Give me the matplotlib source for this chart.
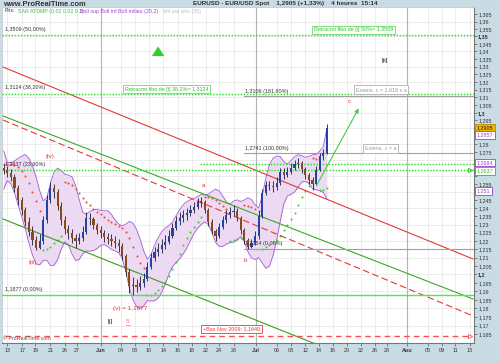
import numpy as np
import pandas as pd
import matplotlib
matplotlib.use("Agg")
import matplotlib.pyplot as plt
import matplotlib.transforms as mtransforms
from matplotlib.ticker import FixedLocator, NullLocator, FuncFormatter

plt.rcParams['font.family'] = ['Liberation Sans', 'DejaVu Sans']

# ---------------- data (half-day bars, EUR/USD) ----------------
open_first = 1.2650
close = [1.2637, 1.2618, 1.2593, 1.2525, 1.2451, 1.2389, 1.2316, 1.2255, 1.2207, 1.2158,
         1.2201, 1.2328, 1.2451, 1.2525, 1.2500, 1.2414, 1.2328, 1.2273, 1.2249, 1.2219,
         1.2201, 1.2219, 1.2255, 1.2340, 1.2334, 1.2298, 1.2267, 1.2249, 1.2225, 1.2213,
         1.2201, 1.2189, 1.2171, 1.2110, 1.2015, 1.1932, 1.1938, 1.1926, 1.1950, 1.1973,
         1.2045, 1.2099, 1.2134, 1.2152, 1.2177, 1.2195, 1.2231, 1.2279, 1.2322, 1.2340,
         1.2359, 1.2371, 1.2389, 1.2408, 1.2438, 1.2438, 1.2389, 1.2316, 1.2261, 1.2231,
         1.2286, 1.2328, 1.2359, 1.2377, 1.2383, 1.2340, 1.2267, 1.2207, 1.2165, 1.2189,
         1.2231, 1.2353, 1.2494, 1.2544, 1.2537, 1.2531, 1.2556, 1.2625, 1.2606, 1.2625,
         1.2650, 1.2675, 1.2681, 1.2644, 1.2606, 1.2575, 1.2550, 1.2637, 1.2725, 1.2744,
         1.2905]
high = [1.2672, 1.2660, 1.2645, 1.2610, 1.2545, 1.2470, 1.2410, 1.2345, 1.2290, 1.2230,
        1.2240, 1.2350, 1.2480, 1.2562, 1.2550, 1.2520, 1.2440, 1.2350, 1.2300, 1.2275,
        1.2245, 1.2250, 1.2290, 1.2375, 1.2370, 1.2345, 1.2310, 1.2290, 1.2265, 1.2250,
        1.2245, 1.2230, 1.2210, 1.2190, 1.2120, 1.2030, 1.1985, 1.1975, 1.1990, 1.2010,
        1.2075, 1.2130, 1.2165, 1.2190, 1.2210, 1.2235, 1.2265, 1.2310, 1.2350, 1.2375,
        1.2390, 1.2400, 1.2420, 1.2440, 1.2465, 1.2470, 1.2450, 1.2400, 1.2335, 1.2275,
        1.2310, 1.2355, 1.2390, 1.2410, 1.2420, 1.2400, 1.2355, 1.2280, 1.2220, 1.2215,
        1.2260, 1.2380, 1.2520, 1.2570, 1.2570, 1.2565, 1.2590, 1.2650, 1.2650, 1.2655,
        1.2680, 1.2700, 1.2712, 1.2690, 1.2655, 1.2620, 1.2590, 1.2660, 1.2745, 1.2770,
        1.2925]
low = [1.2610, 1.2590, 1.2565, 1.2500, 1.2420, 1.2360, 1.2290, 1.2230, 1.2175, 1.2145,
       1.2150, 1.2185, 1.2310, 1.2430, 1.2460, 1.2390, 1.2300, 1.2240, 1.2215, 1.2190,
       1.2160, 1.2180, 1.2200, 1.2240, 1.2300, 1.2270, 1.2240, 1.2220, 1.2195, 1.2180,
       1.2170, 1.2160, 1.2135, 1.2085, 1.1990, 1.1890, 1.1877, 1.1895, 1.1905, 1.1925,
       1.1960, 1.2030, 1.2080, 1.2110, 1.2130, 1.2150, 1.2180, 1.2220, 1.2265, 1.2300,
       1.2315, 1.2330, 1.2350, 1.2370, 1.2395, 1.2405, 1.2370, 1.2290, 1.2240, 1.2200,
       1.2220, 1.2270, 1.2310, 1.2340, 1.2350, 1.2320, 1.2245, 1.2185, 1.2154, 1.2158,
       1.2175, 1.2215, 1.2340, 1.2480, 1.2510, 1.2500, 1.2515, 1.2540, 1.2580, 1.2590,
       1.2610, 1.2635, 1.2650, 1.2620, 1.2580, 1.2550, 1.2510, 1.2540, 1.2630, 1.2700,
       1.2740]

# date axis (trading-day index, May 13 = 0)
date_labels = ['13', '17', '19', '21', '26', '27', 'Jun', '04', '08', '10', '14', '16', '18',
               '22', '24', '28', 'Jul', '06', '08', '12', '14', '16', '20', '22', '26', '28',
               'Aou', '05', '09', '11', '13']
date_pos = [0, 2.1, 3.9, 6.0, 8.0, 9.7, 13.0, 15.8, 17.8, 19.7, 21.7, 23.7, 25.7, 27.7, 29.5,
            31.6, 34.6, 37.5, 39.5, 41.5, 43.4, 45.3, 47.3, 49.2, 51.2, 52.9, 55.7, 58.6, 60.5,
            62.4, 64.4]
month_labels = ['Jun', 'Jul', 'Aou']

# Fibonacci / reference levels
fib_levels = [1.3509, 1.3124, 1.2637]
fib_texts = ['1,3509 (50,00%)', '1,3124 (38,20%)', '1,2637 (23,60%)']
level_second = 1.2672
level_low = 1.1877
level_bas_nov = 1.1640
ext_levels = [1.3106, 1.2741, 1.2154]
ext_texts = ['1,3106 (161,80%)', '1,2741 (100,00%)', '1,2154 (0,00%)']

# trend lines: (day0, price0, day1, price1)
red_line = (-0.6, 1.3297, 64.86, 1.2092)
red_dash = (-0.6, 1.2953, 64.86, 1.1756)
green_up = (-0.6, 1.2979, 64.86, 1.1855)
green_low = (-0.6, 1.2334, 64.86, 1.1238)
green_arrow = (42.86, 1.2524, 49.12, 1.3043)

# right-axis value flags
flag_vals = ['1,2905', '1,2857', '1,2684', '1,2637', '1,251']
flag_y = [1.2905, 1.2857, 1.2684, 1.2632, 1.2506]

# ---------------- figure ----------------
W, H = 500, 363
bg = '#c9dce6'
fig = plt.figure(figsize=(W / 100, H / 100), dpi=100, facecolor=bg)
ax = fig.add_axes([2 / W, 1 - 343 / H, 472 / W, 336 / H])
ax.set_facecolor('white')
ax.set_yscale('log')
ax.set_xlim(-0.74, 64.99)
ax.set_ylim(1.15996, 1.3698)

n = len(close)
xs = np.arange(n) * 0.5 - 0.5
opens = [open_first] + close[:-1]

# grid
for v in np.arange(1.17, 1.37, 0.01):
    ax.axhline(v, color='#e6e6e6', lw=0.5, zorder=0)
for p, lab in zip(date_pos, date_labels):
    if lab in month_labels:
        ax.axvline(p, color='#b5b5b5', lw=0.8, zorder=0)
    else:
        ax.axvline(p, color='#e6e6e6', lw=0.5, zorder=0)

# Bollinger bands (window of 7 half-day bars, 2 std, dispersion from high/low/close)
win = 7
mid, bu, bl = [], [], []
for t in range(n):
    a = max(0, t - win + 1)
    vals = np.array(high[a:t + 1] + low[a:t + 1] + close[a:t + 1])
    m = np.mean(close[a:t + 1])
    sdv = vals.std() if len(vals) > 3 else 0.006
    mid.append(m)
    bu.append(m + 2 * sdv)
    bl.append(m - 2 * sdv)
ax.fill_between(xs, bl, bu, color='#ecd9f2', zorder=1, lw=0)
ax.plot(xs, bu, color='#a45ad6', lw=0.6, zorder=2)
ax.plot(xs, bl, color='#a45ad6', lw=0.6, zorder=2)

# Parabolic SAR
def psar(h, l, af0=0.02, step=0.02, afmax=0.2):
    m = len(h)
    sar = np.zeros(m)
    up = np.zeros(m, bool)
    trend_up = False
    ep = l[0]
    af = af0
    sar[0] = h[0]
    for i in range(1, m):
        prev = sar[i - 1]
        v = prev + af * (ep - prev)
        if trend_up:
            v = min(v, l[i - 1], l[max(i - 2, 0)])
            if l[i] < v:
                trend_up = False
                v = ep
                ep = l[i]
                af = af0
            elif h[i] > ep:
                ep = h[i]
                af = min(af + step, afmax)
        else:
            v = max(v, h[i - 1], h[max(i - 2, 0)])
            if h[i] > v:
                trend_up = True
                v = ep
                ep = h[i]
                af = af0
            elif l[i] < ep:
                ep = l[i]
                af = min(af + step, afmax)
        sar[i] = v
        up[i] = trend_up
    return sar, up

sar, sar_up = psar(high, low)
ax.scatter(xs[sar_up], sar[sar_up], s=2.2, color='#3ccf3c', zorder=3, lw=0)
ax.scatter(xs[~sar_up], sar[~sar_up], s=2.2, color='#f04848', zorder=3, lw=0)

# candles
ax.vlines(xs, low, high, color='#1b1b2b', lw=0.6, zorder=4)
cols = ['#2244aa' if c >= o else '#8a4a1c' for o, c in zip(opens, close)]
bottoms = [min(o, c) for o, c in zip(opens, close)]
heights = [max(abs(c - o), 0.0004) for o, c in zip(opens, close)]
ax.bar(xs, heights, bottom=bottoms, width=0.3, color=cols, zorder=5, lw=0)

# trend lines
def tl(t, **kw):
    ax.plot([t[0], t[2]], [t[1], t[3]], **kw)

tl(red_line, color='#e53935', lw=0.8, zorder=3)
tl(red_dash, color='#e53935', lw=0.8, ls=(0, (6, 3)), zorder=3)
tl(green_up, color='#3aaa2a', lw=0.8, zorder=3)
tl(green_low, color='#3f9a22', lw=0.8, zorder=3)
ax.annotate('', xy=(green_arrow[2], green_arrow[3]), xytext=(green_arrow[0], green_arrow[1]),
            arrowprops=dict(arrowstyle='-|>', color='#44cc44', lw=0.8, mutation_scale=6), zorder=6)

# horizontal levels
x0, x1 = ax.get_xlim()
for lv, txt in zip(fib_levels, fib_texts):
    ax.axhline(lv, color='#22dd22', lw=1.0, ls=(0, (1, 1.2)), zorder=3)
    ax.text(-0.35, lv * 1.0015, txt, fontsize=3.9, color='#333333', va='bottom', ha='left', zorder=7)
ax.plot([26.9, x1], [level_second, level_second], color='#22dd22', lw=1.0, ls=(0, (1, 1.2)), zorder=3)
ax.axhline(level_low, color='#44ee44', lw=1.0, zorder=3)
ax.text(-0.35, level_low * 1.0015, '1,1877 (0,00%)', fontsize=3.9, color='#333333', va='bottom', ha='left', zorder=7)
ax.plot([-0.3, 64.3], [level_bas_nov, level_bas_nov], color='#ff4d4d', lw=1.0, ls=(0, (4, 3)), zorder=3)
ax.plot([64.5], [level_bas_nov], marker='>', ms=3, mfc='none', mec='#ff4d4d', mew=0.6)
ax.plot([64.5], [fib_levels[2]], marker='>', ms=3, mfc='none', mec='#22bb22', mew=0.6)
for lv, txt in zip(ext_levels, ext_texts):
    ax.plot([33.0, x1], [lv, lv], color='#a0a0a0', lw=0.8, zorder=3)
    ax.text(33.1, lv * 1.0012, txt, fontsize=3.9, color='#333333', va='bottom', ha='left', zorder=7)

# boxes
def box(x, y, txt, col, ec):
    ax.text(x, y, txt, fontsize=3.9, color=col, ha='center', va='center', zorder=8,
            bbox=dict(boxstyle='square,pad=0.35', fc='white', ec=ec, lw=0.6))

box(48.2, 1.3543, 'Retracmt fibo de [i] 50%= 1,3509', '#33bb33', '#66dd66')
box(22.17, 1.3153, 'Retracmt fibo de [i] 38,2%= 1,3124', '#33bb33', '#66dd66')
box(52.05, 1.3150, 'Extens. c = 1,618 x a', '#999999', '#b0b0b0')
box(51.98, 1.2771, 'Extens. c = a', '#999999', '#b0b0b0')
box(31.2, 1.1680, '+Bas Nov 2009: 1,1640', '#ee3333', '#ee3333')

ax.annotate('', xy=(21.0, 1.3452), xytext=(21.0, 1.3392),
            arrowprops=dict(arrowstyle='simple,head_width=0.9,head_length=0.7,tail_width=0.35',
                            color='#33cc33', lw=0), zorder=6)

# wave labels
wl = dict(fontsize=4.6, ha='center', va='center', zorder=8)
ax.text(5.95, 1.2718, '(iv)', color='#e53935', **wl)
ax.text(3.58, 1.2074, '(iii)', color='#e53935', **wl)
ax.text(17.09, 1.1802, '(v) = 1,1877', color='#e53935', **wl)
ax.text(14.3, 1.1721, '[i]', color='#111111', **wl)
ax.text(16.8, 1.1721, '5', color='#ff6a8a', **wl)
ax.plot([16.55, 17.05], [1.1701, 1.1701], color='#ff6a8a', lw=0.5)
ax.text(27.3, 1.2537, 'a', color='#e53935', **wl)
ax.text(33.2, 1.2080, 'b', color='#e53935', **wl)
ax.text(47.6, 1.3075, 'c', color='#e53935', **wl)
ax.text(52.5, 1.3337, '[ii]', color='#111111', **wl)

# axes styling
for sp in ['top', 'left']:
    ax.spines[sp].set_color('#c8c8c8')
    ax.spines[sp].set_linewidth(0.6)
for sp in ['bottom', 'right']:
    ax.spines[sp].set_color('#777777')
    ax.spines[sp].set_linewidth(0.8)

yt = [round(v, 3) for v in np.arange(1.165, 1.3651, 0.005)]
ax.yaxis.tick_right()
ax.yaxis.set_major_locator(FixedLocator(yt))
ax.yaxis.set_minor_locator(NullLocator())

px_per_log = 336 / (np.log(1.3698) - np.log(1.15996))
hidden = set(v for v in yt if any(abs(np.log(v) - np.log(f)) * px_per_log < 5.5 for f in flag_y))

def yfmt(v, pos):
    if round(v, 3) in hidden:
        return ''
    t = f"{v:.3f}".rstrip('0').rstrip('.')
    return t.replace('.', ',')

ax.yaxis.set_major_formatter(FuncFormatter(yfmt))
ax.yaxis.set_minor_formatter(FuncFormatter(lambda v, p: ''))
ax.tick_params(axis='y', labelsize=3.9, length=2, width=0.5, colors='#555555', pad=1, labelcolor='#333333')
for lab, v in zip(ax.get_yticklabels(), yt):
    if abs(round(v / 0.05) * 0.05 - v) < 1e-9:
        lab.set_fontweight('bold')

ax.set_xticks(date_pos)
ax.set_xticklabels(date_labels)
ax.tick_params(axis='x', labelsize=3.9, length=2, width=0.5, colors='#555555', pad=1.5, labelcolor='#333333')
for lab in ax.get_xticklabels():
    if lab.get_text() in month_labels:
        lab.set_fontweight('bold')

# right value flags
trans = mtransforms.blended_transform_factory(ax.transAxes, ax.transData)
flag_style = [('#222222', '#f0b400', '#c08a00'), ('#a040d0', 'white', '#a040d0'),
              ('#a040d0', 'white', '#a040d0'), ('#33bb33', 'white', '#33bb33'),
              ('#a040d0', 'white', '#a040d0')]
for txt, yv, (tc, fc, ec) in zip(flag_vals, flag_y, flag_style):
    ax.text(1.006, yv, txt, transform=trans, fontsize=3.9, color=tc, ha='left', va='center',
            zorder=9, clip_on=False,
            bbox=dict(boxstyle='square,pad=0.25', fc=fc, ec=ec, lw=0.6))

# header texts
def ftxt(x, y, t, **kw):
    fig.text(x / W, 1 - y / H, t, **kw)

ftxt(3, 4, 'www.ProRealTime.com', fontsize=5.4, fontweight='bold', color='#333333', va='center', ha='left')
ftxt(285, 4, 'EURUSD - EUR/USD Spot    1,2905 (+1,33%)    4 heures  15:14', fontsize=4.6,
     fontweight='bold', color='#333333', va='center', ha='center')
ftxt(5, 11, 'Prix:', fontsize=3.8, color='#333333', va='center')
ftxt(18, 11, 'SAR ATDMP (0,02 0,02 0,2)', fontsize=3.8, color='#44bb44', va='center')
ftxt(80, 11, 'Boll sup Boll inf Boll milieu (20,2)', fontsize=3.8, color='#a040d0', va='center')
ftxt(163, 11, 'Vol par prix (25)', fontsize=3.8, color='#bbbbbb', va='center')
ftxt(3, 339, '\u00a9 ProRealTime.com', fontsize=3.8, color='#555555', va='center')

fig.savefig('out.png', dpi=100, facecolor=bg)
